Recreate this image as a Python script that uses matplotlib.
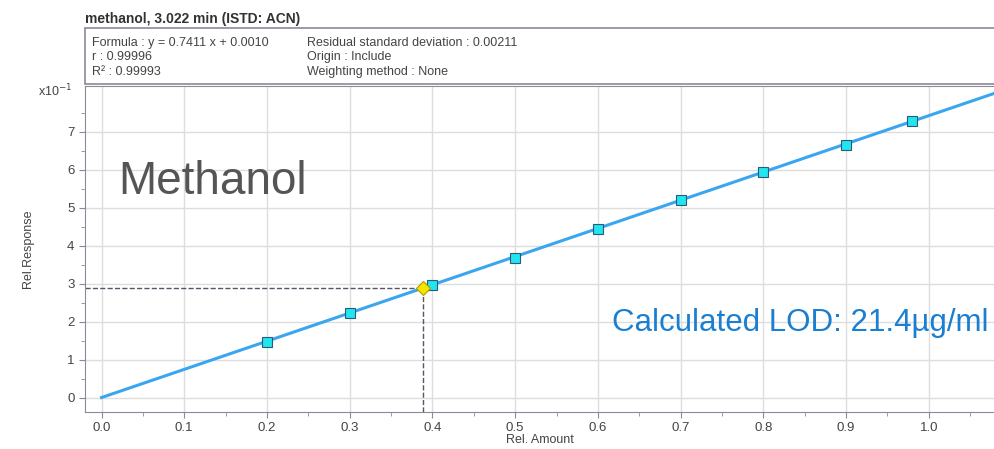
import numpy as np
import matplotlib.pyplot as plt
from matplotlib.patches import Rectangle

# calibration data (response in x10^-1)
rel_amount = [0.2, 0.3, 0.4, 0.5, 0.6, 0.7, 0.8, 0.9, 0.98]
rel_response = [1.48, 2.23, 2.97, 3.68, 4.44, 5.20, 5.95, 6.65, 7.27]
slope, intercept = 7.411, 0.010
lod_x, lod_y = 0.388, 2.88

plt.rcParams['font.family'] = ['Arial', 'Liberation Sans', 'DejaVu Sans']
fig = plt.figure(figsize=(9.95, 4.49), dpi=100)
ax = fig.add_axes([0.0854, 0.0824, 0.9146, 0.726])

xl = np.array([0.0, 1.08])
ax.plot(xl, slope * xl + intercept, color='#3aa6f0', lw=2.2, zorder=2)
ax.plot(rel_amount, rel_response, 's', ms=7.5, mfc='#22e5ee', mec='#2a5a7a', mew=0.8, zorder=3)
ax.plot([-0.02, lod_x], [lod_y, lod_y], '--', color='#555566', lw=1, zorder=1)
ax.plot([lod_x, lod_x], [-0.37, lod_y], '--', color='#555566', lw=1, zorder=1)
ax.plot([lod_x], [lod_y], 'D', ms=7, mfc='#f5e600', mec='#b59a00', mew=0.8, zorder=4)

ax.set_xlim(-0.02, 1.08)
ax.set_ylim(-0.37, 8.2)
ax.set_xticks(np.arange(0, 1.01, 0.1))
ax.set_xticks(np.arange(0.05, 1.06, 0.1), minor=True)
ax.set_yticks(range(0, 8))
ax.set_yticks(np.arange(0.5, 8, 1), minor=True)
ax.xaxis.set_major_formatter(plt.FormatStrFormatter('%.1f'))
ax.grid(True, color='#dddddd', lw=1)
ax.set_axisbelow(True)
ax.tick_params(labelsize=9.5, colors='#8a8a9a', labelcolor='#444444', length=4)
ax.tick_params(which='minor', colors='#8a8a9a', length=3)
for s in ax.spines.values():
    s.set_color('#8a8a9a')
ax.set_xlabel('Rel. Amount', fontsize=9, color='#444444', labelpad=0)
ax.set_ylabel('Rel.Response', fontsize=9, color='#444444', labelpad=24)
fig.text(0.038, 0.785, 'x10$^{-1}$', fontsize=9, color='#444444')

ax.text(0.02, 5.35, 'Methanol', fontsize=33, color='#555555')
ax.text(1.072, 1.75, 'Calculated LOD: 21.4\u00b5g/ml', fontsize=22.5, color='#1a7fd0', ha='right')

# info box
fig.patches.append(Rectangle((0.0854, 0.813), 0.9146, 0.1247, transform=fig.transFigure,
                             fill=False, ec='#8a8a9a', lw=1.2))
fig.text(0.0854, 0.948, 'methanol, 3.022 min (ISTD: ACN)', fontsize=10, fontweight='bold', color='#333333')
info = [('Formula : y = 0.7411 x + 0.0010', 0.092, 0.897),
        ('r : 0.99996', 0.092, 0.866),
        ('R\u00b2 : 0.99993', 0.092, 0.834),
        ('Residual standard deviation : 0.00211', 0.309, 0.897),
        ('Origin : Include', 0.309, 0.866),
        ('Weighting method : None', 0.309, 0.834)]
for t, x, y in info:
    fig.text(x, y, t, fontsize=9, color='#444444')

fig.savefig('out.png', dpi=100)
